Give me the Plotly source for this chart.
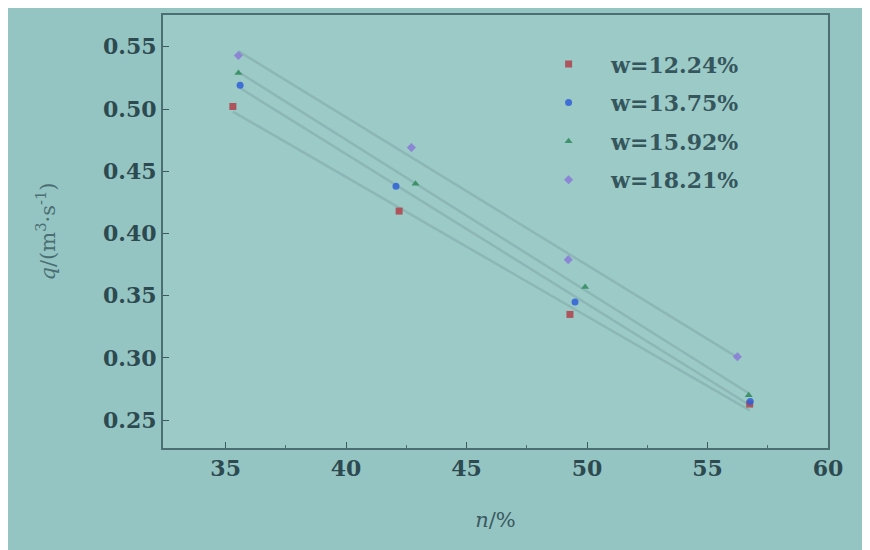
import numpy as np
import plotly.graph_objects as go

series_names = ["w=12.24%", "w=13.75%", "w=15.92%", "w=18.21%"]
n_red = [35.30, 42.20, 49.29, 56.75]
q_red = [0.502, 0.418, 0.335, 0.263]
n_blue = [35.60, 42.07, 49.50, 56.77]
q_blue = [0.519, 0.438, 0.345, 0.265]
n_green = [35.53, 42.88, 49.92, 56.71]
q_green = [0.529, 0.440, 0.357, 0.270]
n_purple = [35.53, 42.71, 49.22, 56.24]
q_purple = [0.543, 0.469, 0.379, 0.301]

xs = [n_red, n_blue, n_green, n_purple]
ys = [q_red, q_blue, q_green, q_purple]
colors = ["#b0404a", "#2f5fd8", "#2f8a5a", "#8a7ad8"]
symbols = ["square", "circle", "triangle-up", "diamond"]

fig = go.Figure()
for x, y in zip(xs, ys):
    k, b = np.polyfit(x, y, 1)
    xl = np.array([min(x), max(x)])
    fig.add_trace(go.Scatter(x=xl, y=k * xl + b, mode="lines", showlegend=False,
                             line=dict(color="rgba(55,90,95,0.16)", width=2.5),
                             hoverinfo="skip"))
for i, (name, x, y, c, s) in enumerate(zip(series_names, xs, ys, colors, symbols)):
    fig.add_trace(go.Scatter(x=x, y=y, mode="markers", name=name, legendgroup=f"g{i}",
                             marker=dict(color=c, symbol=s, size=7, opacity=0.85)))

FONT = "DejaVu Serif"
tickfont = dict(family=FONT, size=22, color="#2c4a50", weight="bold")
fig.update_layout(
    width=870, height=550,
    margin=dict(l=155, r=50, t=5, b=110),
    paper_bgcolor="#95c5c3", plot_bgcolor="#9ccac7",
    font=dict(family=FONT, color="#2c4a50"),
    legend=dict(x=0.546, y=0.935, xanchor="left", yanchor="top",
                bgcolor="rgba(0,0,0,0)",
                font=dict(family=FONT, size=22, color="#35565c", weight="bold"),
                tracegroupgap=7, itemwidth=75),
    xaxis=dict(range=[32.4, 60], tickvals=[35, 40, 45, 50, 55, 60], ticks="inside", ticklen=6,
               tickcolor="#3a5a60", showgrid=False, zeroline=False, showline=True, mirror=True,
               linecolor="#4a6e72", linewidth=2, tickfont=tickfont,
               minor=dict(tickvals=[37.5, 42.5, 47.5, 52.5, 57.5], ticks="inside", ticklen=3, tickcolor="#4a6e72"),
               title=dict(text="<i>n</i>/%", font=dict(family=FONT, size=21, color="#3a5a60"), standoff=32)),
    yaxis=dict(range=[0.2277, 0.5755], tickvals=[0.25, 0.30, 0.35, 0.40, 0.45, 0.50, 0.55],
               tickformat=".2f", ticks="inside", ticklen=6, tickcolor="#3a5a60",
               showgrid=False, zeroline=False, showline=True, mirror=True,
               linecolor="#4a6e72", linewidth=2, tickfont=tickfont,
               title=dict(text="<i>q</i>/(m<sup>3</sup>·s<sup>-1</sup>)",
                          font=dict(family=FONT, size=21, color="#4a6e72"), standoff=42)),
)
fig.write_html("out.html")
